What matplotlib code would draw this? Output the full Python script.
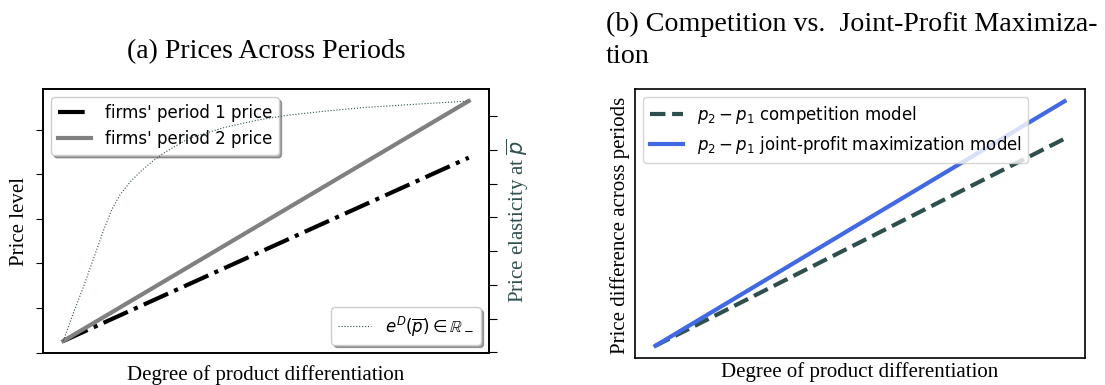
import matplotlib
matplotlib.use("Agg")
import matplotlib.pyplot as plt
from matplotlib.ticker import MultipleLocator

# ---- data ----
degree = [0.0, 1.0]
price_period1 = [0.26, 4.37]
price_period2 = [0.26, 5.64]

elast_degree = [0.0, 0.025, 0.05, 0.075, 0.10, 0.12, 0.14, 0.165, 0.19, 0.22, 0.25,
                0.31, 0.40, 0.48, 0.55, 0.65, 0.74, 0.87, 1.0]
elasticity = [-7.66, -6.83, -6.05, -5.21, -4.36, -3.76, -3.33, -2.95, -2.65, -2.34, -2.08,
              -1.66, -1.33, -1.12, -0.98, -0.85, -0.75, -0.65, -0.555]

diff_competition = [0.0, 1.27]
diff_joint = [0.0, 1.50]

SERIF = ["Liberation Serif", "DejaVu Serif"]
SANS = ["DejaVu Sans"]
plt.rcParams["font.family"] = SANS
plt.rcParams["mathtext.fontset"] = "dejavusans"

fig = plt.figure(figsize=(11.05, 3.85), dpi=100)

# ---------------- panel (a) ----------------
ax1 = fig.add_axes([43/1105, 1-353/385, 446/1105, 264/385])
ax1.plot(degree, price_period1, color="black", lw=3, ls="-.", label="firms' period 1 price")
ax1.plot(degree, price_period2, color="gray", lw=3, ls="-", label="firms' period 2 price")
ax1.yaxis.set_major_locator(MultipleLocator(1))
ax1.set_xticks([])
ax1.tick_params(axis="y", labelleft=False, length=5)
ax1.legend(loc="upper left", fontsize=12, shadow=True, framealpha=1.0)

ax2 = ax1.twinx()
ax2.plot(elast_degree, elasticity, color="#2F4F4F", lw=0.8, ls=":",
         label=r"$e^D(\overline{p}) \in \mathbb{R}_-$")
ax2.yaxis.set_major_locator(MultipleLocator(1))
ax2.tick_params(axis="y", labelright=False, length=6)
ax2.legend(loc="lower right", fontsize=12, shadow=True, framealpha=1.0)

for ax in (ax1, ax2):
    for s in ax.spines.values():
        s.set_linewidth(1.2)

fig.text(266/1105, 1-58/385, "(a) Prices Across Periods", family=SERIF,
         fontsize=20, ha="center", va="baseline")
fig.text(20/1105, 1-222/385, "Price level", family=SERIF, fontsize=15,
         rotation=90, ha="center", va="center")
fig.text(266/1105, 1-375/385, "Degree of product differentiation", family=SERIF,
         fontsize=15, ha="center", va="center")
fig.text(518/1105, 1-221/385, r"Price elasticity at $\overline{p}$", family=SERIF,
         fontsize=15, rotation=90, ha="center", va="center", color="#2F4F4F")

# ---------------- panel (b) ----------------
ax3 = fig.add_axes([635/1105, 1-358/385, 450/1105, 269/385])
ax3.plot(degree, diff_competition, color="#2F4F4F", lw=3, ls="--",
         label=r"$p_2 - p_1$ competition model")
ax3.plot(degree, diff_joint, color="royalblue", lw=3, ls="-",
         label=r"$p_2 - p_1$ joint-profit maximization model")
ax3.set_xticks([])
ax3.set_yticks([])
ax3.legend(loc="upper left", fontsize=12)
for s in ax3.spines.values():
    s.set_linewidth(1.2)

fig.text(606/1105, 1-31/385, "(b) Competition vs.  Joint-Profit Maximiza-", family=SERIF,
         fontsize=20.2, ha="left", va="baseline")
fig.text(606/1105, 1-63/385, "tion", family=SERIF,
         fontsize=20.2, ha="left", va="baseline")
fig.text(620/1105, 1-225/385, "Price difference across periods", family=SERIF,
         fontsize=15, rotation=90, ha="center", va="center")
fig.text(860/1105, 1-372/385, "Degree of product differentiation", family=SERIF,
         fontsize=15, ha="center", va="center")

fig.savefig("out.png", dpi=100)
